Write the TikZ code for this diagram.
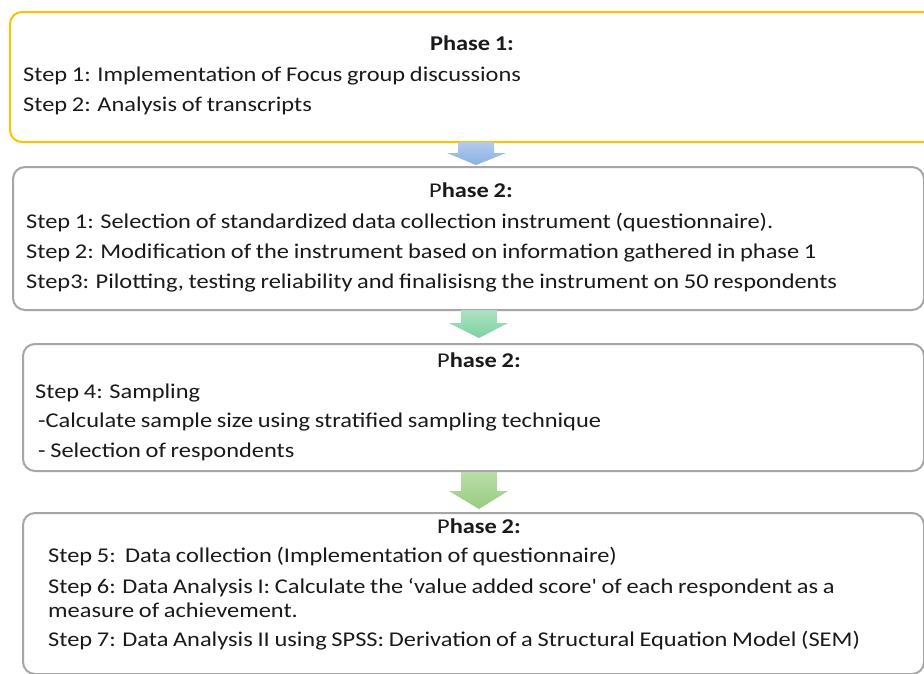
\documentclass[tikz,border=0pt]{standalone}
\usepackage{fontspec}
\newfontfamily\calfont[FakeStretch=1.162,WordSpace=0.85]{Carlito}
\usetikzlibrary{calc}
\definecolor{gold}{HTML}{FFC000}
\definecolor{boxgrey}{HTML}{A6A6A6}
\definecolor{txtc}{HTML}{1A1A1A}
\definecolor{blueT}{HTML}{B2CAEC}
\definecolor{blueB}{HTML}{8AB1E2}
\definecolor{greenT}{HTML}{ACE1C3}
\definecolor{greenB}{HTML}{7ED2A1}
\definecolor{leafT}{HTML}{BADDA8}
\definecolor{leafB}{HTML}{98CC7F}
\begin{document}
\begin{tikzpicture}[x=1pt,y=-1pt,
  txt/.style={anchor=base west, inner sep=0pt, text=txtc, font=\calfont\fontsize{21}{25}\selectfont},
  ttl/.style={anchor=base, inner sep=0pt, text=txtc, font=\calfont\fontsize{21}{25}\selectfont},
  frame/.style={draw=boxgrey, line width=2pt, rounded corners=12pt, anchor=north west, inner sep=0pt, fill=white}]
\useasboundingbox (0,0) rectangle (924,673);
\fill[white] (0,0) rectangle (924,673);
\begin{scope}
\clip (0,0) rectangle (924,673);
% boxes
\node[frame, draw=gold, minimum width=960pt, minimum height=130pt] (b1) at (9,11) {};
\node[frame, minimum width=911pt, minimum height=143pt] (b2) at (12,166) {};
\node[frame, minimum width=901pt, minimum height=127pt] (b3) at (22,343) {};
\node[frame, minimum width=901pt, minimum height=161pt] (b4) at (22,512) {};
% arrows
\coordinate (a1) at (476,142);
\coordinate (t1) at (476,165);
\coordinate (a2) at (479,310);
\coordinate (t2) at (479,338);
\coordinate (a3) at (479,472);
\coordinate (t3) at (479,509);
\shade[top color=blueT, bottom color=blueB]
  ($(a1)+(-18,0)$) -- ($(a1)+(18,0)$) -- ($(a1)+(18,11)$) -- ($(a1)+(30,11)$)
  -- (t1) -- ($(a1)+(-29,11)$) -- ($(a1)+(-18,11)$) -- cycle;
\shade[top color=greenT, bottom color=greenB]
  ($(a2)+(-18,0)$) -- ($(a2)+(18,0)$) -- ($(a2)+(18,13)$) -- ($(a2)+(29,13)$)
  -- (t2) -- ($(a2)+(-30,13)$) -- ($(a2)+(-18,13)$) -- cycle;
\shade[top color=leafT, bottom color=leafB]
  ($(a3)+(-18,0)$) -- ($(a3)+(18,0)$) -- ($(a3)+(18,19)$) -- ($(a3)+(29,19)$)
  -- (t3) -- ($(a3)+(-30,19)$) -- ($(a3)+(-18,19)$) -- cycle;
% box 1 text
\node[ttl] (p1) at (472,50) {\bfseries Phase 1:};
\node[txt] (s11) at (23,81) {Step 1: Implementation of Focus group discussions};
\node[txt] (s12) at (23,111) {Step 2: Analysis of transcripts};
% box 2 text
\node[ttl] (p2) at (471,197) {P\textbf{hase 2:}};
\node[txt] (s21) at (26,228) {Step 1: Selection of standardized data collection instrument (questionnaire).};
\node[txt] (s22) at (26,258) {Step 2: Modification of the instrument based on information gathered in phase 1};
\node[txt] (s23) at (26,288) {Step3: Pilotting, testing reliability and finalisisng the instrument on 50 respondents};
% box 3 text
\node[ttl] (p3) at (479,367) {P\textbf{hase 2:}};
\node[txt] (s31) at (35,398) {Step 4: Sampling};
\node[txt] (s32) at (38,427) {-Calculate sample size using stratified sampling technique};
\node[txt] (s33) at (38,457) {- Selection of respondents};
% box 4 text
\node[ttl] (p4) at (479,533) {P\textbf{hase 2:}};
\node[txt] (s41) at (48,562) {Step 5:\ \ Data collection\ (Implementation of questionnaire)};
\node[txt] (s42) at (48,593) {Step 6: Data Analysis I: Calculate the ‘value added score' of each respondent as a};
\node[txt] (s43) at (48,617) {measure of achievement.};
\node[txt] (s44) at (48,646) {Step 7: Data Analysis II using SPSS: Derivation of a Structural Equation Model (SEM)};
\end{scope}
\end{tikzpicture}
\end{document}
